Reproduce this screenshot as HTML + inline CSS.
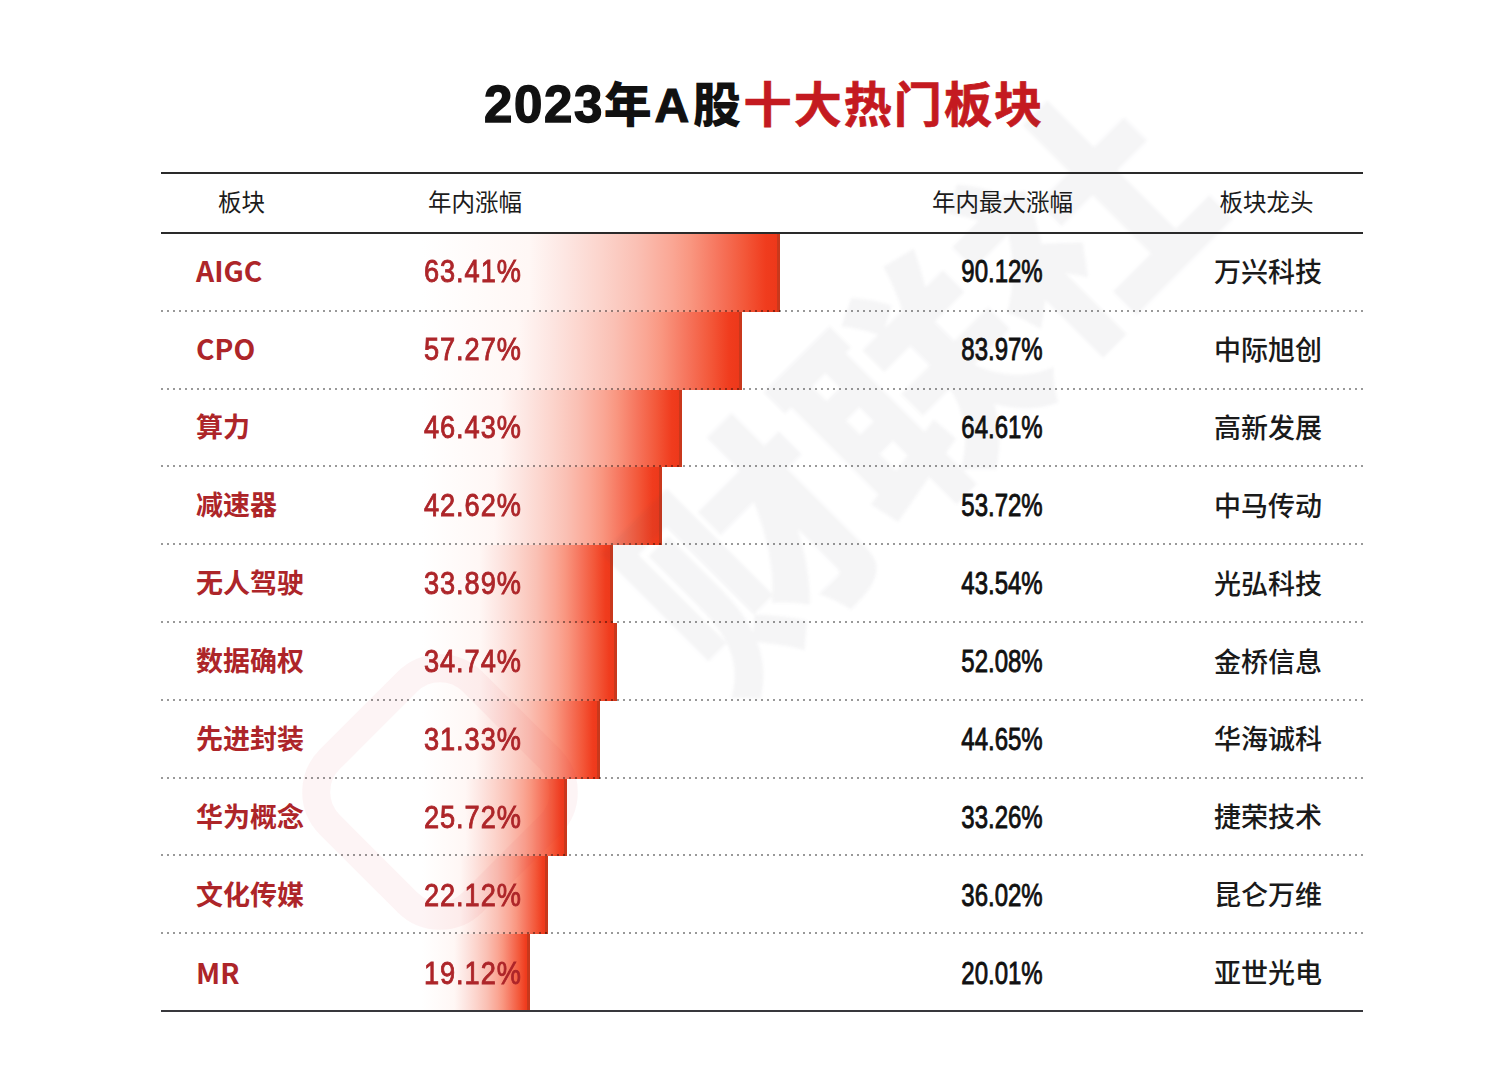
<!DOCTYPE html>
<html lang="zh-CN">
<head>
<meta charset="utf-8">
<title>2023年A股十大热门板块</title>
<style>
html,body{margin:0;padding:0;background:#fff;}
body{width:1508px;height:1087px;position:relative;overflow:hidden;
  font-family:"Liberation Sans","Noto Sans CJK SC",sans-serif;}
.abs{position:absolute;}
.title{position:absolute;left:484px;top:61px;white-space:nowrap;line-height:80px;color:#111;}
.title .num{font-family:"Liberation Sans",sans-serif;font-weight:700;font-size:51px;letter-spacing:1.6px;-webkit-text-stroke:1.4px #111;}
.title .cj{font-family:"Noto Sans CJK SC",sans-serif;font-weight:900;font-size:48px;letter-spacing:2.6px;}
.title .la{font-family:"Liberation Sans",sans-serif;font-weight:700;font-size:48px;letter-spacing:3.8px;-webkit-text-stroke:1.2px #111;}
.title .red{font-family:"Noto Sans CJK SC",sans-serif;font-weight:700;font-size:48px;color:#c41a20;letter-spacing:2.1px;-webkit-text-stroke:0.7px #c41a20;}
.rule{position:absolute;left:161px;width:1202px;background:#2a2a2a;}
.dot{position:absolute;left:161px;width:1202px;height:2px;
  background-image:linear-gradient(to right,rgba(0,0,0,0.4) 0 2px,transparent 2px 6px);
  background-size:6px 2px;}
.hd{position:absolute;top:186px;height:34px;line-height:34px;font-size:23.5px;color:#1c1c1c;
  font-family:"Liberation Sans","Noto Sans CJK SC",sans-serif;font-weight:400;white-space:nowrap;}
.bar{position:absolute;left:422px;background:linear-gradient(to right,rgb(255,255,255) 0%,rgb(255,247,245) 30%,rgb(253,230,226) 40%,rgb(252,212,204) 50%,rgb(250,192,180) 60%,rgb(250,166,148) 70%,rgb(249,150,128) 75%,rgb(246,116,92) 83%,rgb(243,88,58) 90%,rgb(240,60,30) 96%,rgb(236,55,25) 100%);}
.bar i{position:absolute;right:0;top:0;bottom:0;width:3px;background:#c9381c;}
.c1{position:absolute;left:196px;font-size:27px;font-weight:700;color:#ad2529;white-space:nowrap;
  font-family:"Liberation Sans","Noto Sans CJK SC",sans-serif;}
.c2{position:absolute;left:424px;font-size:32px;font-weight:400;color:#ad2529;-webkit-text-stroke:0.9px #ad2529;white-space:nowrap;font-family:"Liberation Sans",sans-serif;transform-origin:0 50%;transform:scaleX(0.85);letter-spacing:1.1px;}
.c3{position:absolute;left:1002px;font-size:32px;font-weight:400;color:#111;-webkit-text-stroke:0.9px #111;white-space:nowrap;font-family:"Liberation Sans",sans-serif;transform:translateX(-50%) scaleX(0.75);}
.c1 .lt{font-family:"Noto Sans CJK SC",sans-serif;font-size:28.3px;position:relative;top:-2.1px;}
.c4{position:absolute;left:1214px;font-size:27px;font-weight:500;color:#1a1a1a;white-space:nowrap;
  font-family:"Liberation Sans","Noto Sans CJK SC",sans-serif;}
</style>
</head>
<body>
<div class="title"><span class="num">2023</span><span class="cj">年</span><span class="la">A</span><span class="cj">股</span><span class="red">十大热门板块</span></div>

<div class="bar" style="top:234.0px;height:77.8px;width:358.0px"><i></i></div>
<div class="bar" style="top:311.8px;height:77.8px;width:320.2px"><i></i></div>
<div class="bar" style="top:389.6px;height:77.8px;width:259.9px"><i></i></div>
<div class="bar" style="top:467.4px;height:77.8px;width:239.7px"><i></i></div>
<div class="bar" style="top:545.2px;height:77.8px;width:191.2px"><i></i></div>
<div class="bar" style="top:623.0px;height:77.8px;width:195.0px"><i></i></div>
<div class="bar" style="top:700.8px;height:77.8px;width:177.5px"><i></i></div>
<div class="bar" style="top:778.6px;height:77.8px;width:145.1px"><i></i></div>
<div class="bar" style="top:856.4px;height:77.8px;width:126.0px"><i></i></div>
<div class="bar" style="top:934.2px;height:77.8px;width:107.7px"><i></i></div>

<div class="wm" style="position:absolute;left:905px;top:380px;width:0;height:0;">
<div style="position:absolute;left:-420px;top:-130px;width:840px;height:260px;line-height:260px;text-align:center;transform:rotate(-45deg);font-family:'Noto Sans CJK SC',sans-serif;font-weight:900;font-size:235px;color:rgba(60,60,80,0.05);white-space:nowrap;letter-spacing:0px;filter:blur(1.5px);">财联社</div>
</div>
<div style="position:absolute;left:325px;top:677px;width:230px;height:230px;border:28px solid rgba(220,60,80,0.055);border-radius:60px;transform:rotate(45deg);box-sizing:border-box;"></div>
<div class="rule" style="top:172px;height:2px"></div>
<div class="hd" style="left:218px">板块</div>
<div class="hd" style="left:428px">年内涨幅</div>
<div class="hd" style="left:932px">年内最大涨幅</div>
<div class="hd" style="left:1219.5px">板块龙头</div>
<div class="rule" style="top:232px;height:2px"></div>

<div class="c1" style="top:252.1px;line-height:40px"><span class="lt">AIGC</span></div>
<div class="c2" style="top:250.9px;line-height:40px">63.41%</div>
<div class="c3" style="top:250.8px;line-height:40px">90.12%</div>
<div class="c4" style="top:252.6px;line-height:40px">万兴科技</div>
<div class="dot" style="top:309.8px"></div>
<div class="c1" style="top:330.0px;line-height:40px"><span class="lt">CPO</span></div>
<div class="c2" style="top:328.9px;line-height:40px">57.27%</div>
<div class="c3" style="top:328.8px;line-height:40px">83.97%</div>
<div class="c4" style="top:330.5px;line-height:40px">中际旭创</div>
<div class="dot" style="top:387.6px"></div>
<div class="c1" style="top:408.0px;line-height:40px">算力</div>
<div class="c2" style="top:406.9px;line-height:40px">46.43%</div>
<div class="c3" style="top:406.8px;line-height:40px">64.61%</div>
<div class="c4" style="top:408.5px;line-height:40px">高新发展</div>
<div class="dot" style="top:465.4px"></div>
<div class="c1" style="top:486.0px;line-height:40px">减速器</div>
<div class="c2" style="top:484.8px;line-height:40px">42.62%</div>
<div class="c3" style="top:484.7px;line-height:40px">53.72%</div>
<div class="c4" style="top:486.5px;line-height:40px">中马传动</div>
<div class="dot" style="top:543.2px"></div>
<div class="c1" style="top:564.0px;line-height:40px">无人驾驶</div>
<div class="c2" style="top:562.8px;line-height:40px">33.89%</div>
<div class="c3" style="top:562.7px;line-height:40px">43.54%</div>
<div class="c4" style="top:564.5px;line-height:40px">光弘科技</div>
<div class="dot" style="top:621.0px"></div>
<div class="c1" style="top:642.0px;line-height:40px">数据确权</div>
<div class="c2" style="top:640.8px;line-height:40px">34.74%</div>
<div class="c3" style="top:640.7px;line-height:40px">52.08%</div>
<div class="c4" style="top:642.5px;line-height:40px">金桥信息</div>
<div class="dot" style="top:698.8px"></div>
<div class="c1" style="top:719.9px;line-height:40px">先进封装</div>
<div class="c2" style="top:718.8px;line-height:40px">31.33%</div>
<div class="c3" style="top:718.7px;line-height:40px">44.65%</div>
<div class="c4" style="top:720.4px;line-height:40px">华海诚科</div>
<div class="dot" style="top:776.6px"></div>
<div class="c1" style="top:797.9px;line-height:40px">华为概念</div>
<div class="c2" style="top:796.8px;line-height:40px">25.72%</div>
<div class="c3" style="top:796.7px;line-height:40px">33.26%</div>
<div class="c4" style="top:798.4px;line-height:40px">捷荣技术</div>
<div class="dot" style="top:854.4px"></div>
<div class="c1" style="top:875.9px;line-height:40px">文化传媒</div>
<div class="c2" style="top:874.7px;line-height:40px">22.12%</div>
<div class="c3" style="top:874.6px;line-height:40px">36.02%</div>
<div class="c4" style="top:876.4px;line-height:40px">昆仑万维</div>
<div class="dot" style="top:932.2px"></div>
<div class="c1" style="top:953.9px;line-height:40px"><span class="lt">MR</span></div>
<div class="c2" style="top:952.7px;line-height:40px">19.12%</div>
<div class="c3" style="top:952.6px;line-height:40px">20.01%</div>
<div class="c4" style="top:954.4px;line-height:40px">亚世光电</div>

<div class="rule" style="top:1009.8px;height:2.6px;background:#38383c"></div>
</body>
</html>
